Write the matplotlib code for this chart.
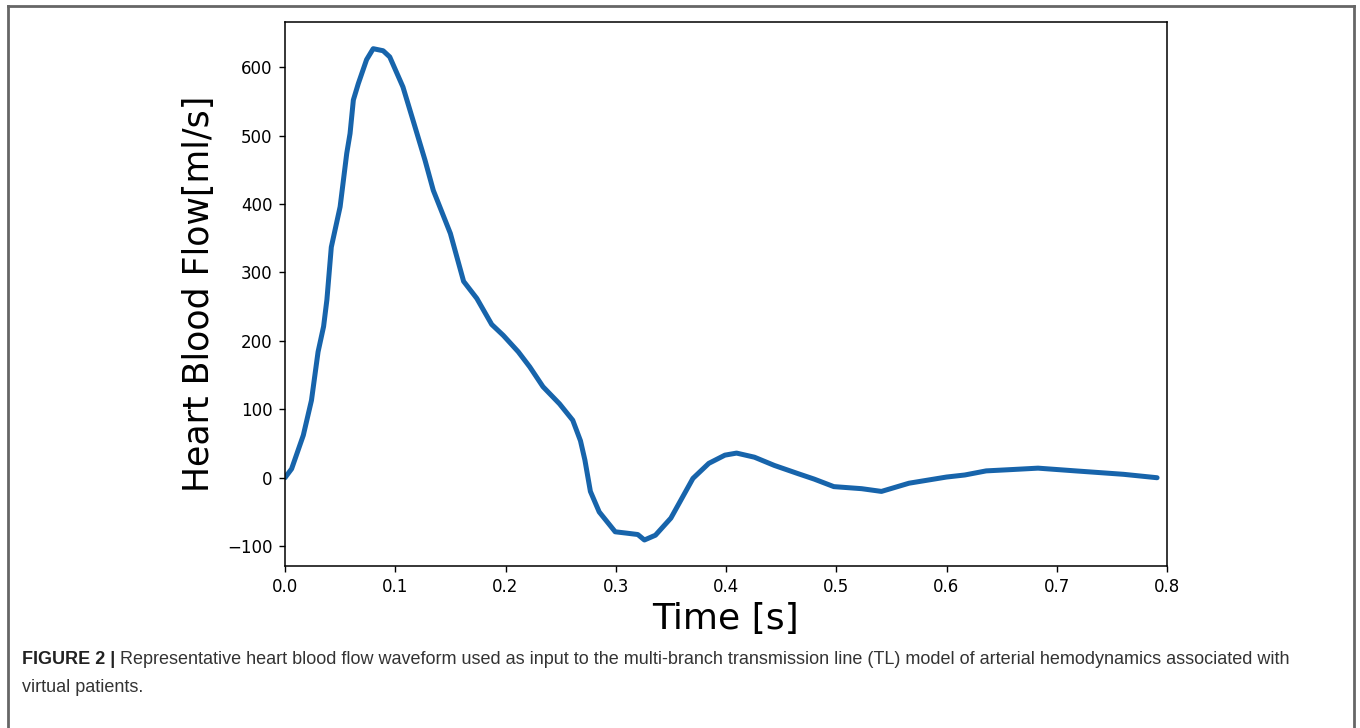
import matplotlib
matplotlib.use("Agg")
import matplotlib.pyplot as plt
from matplotlib.lines import Line2D

# Heart blood flow waveform
time_s = [0.000, 0.006, 0.0166, 0.024, 0.030, 0.035, 0.038, 0.042, 0.050, 0.056,
          0.059, 0.062, 0.0665, 0.074, 0.080, 0.089, 0.095, 0.107, 0.116, 0.127,
          0.1345, 0.150, 0.162, 0.174, 0.1875, 0.198, 0.2116, 0.222, 0.234, 0.249,
          0.261, 0.268, 0.272, 0.277, 0.285, 0.2995, 0.310, 0.320, 0.326, 0.336,
          0.350, 0.370, 0.3844, 0.399, 0.4096, 0.4258, 0.4438, 0.4653, 0.480, 0.4978,
          0.523, 0.541, 0.566, 0.600, 0.6166, 0.636, 0.660, 0.683, 0.717, 0.7605,
          0.791]
flow_ml_s = [0, 13, 62, 113, 184, 221, 260, 337, 396, 474,
             503, 552, 576, 611, 627, 624, 615, 571, 523, 464,
             420, 357, 287, 262, 224, 208, 184, 162, 133, 108,
             84, 54, 26, -20, -50, -79, -81, -83, -91, -84,
             -59, -1, 21, 33, 36, 30, 18, 6, -2, -13,
             -16, -20, -8, 1, 4, 10, 12, 14, 10, 5,
             0]

x_ticks = [0.0, 0.1, 0.2, 0.3, 0.4, 0.5, 0.6, 0.7, 0.8]
y_ticks = [-100, 0, 100, 200, 300, 400, 500, 600]

caption_bold = "FIGURE 2 |"
caption_line1 = ("Representative heart blood flow waveform used as input to the multi-branch "
                 "transmission line (TL) model of arterial hemodynamics associated with")
caption_line2 = "virtual patients."

W, H = 1360, 728
fig = plt.figure(figsize=(W / 100, H / 100), dpi=100)
ax = fig.add_axes([285 / W, 1 - 566 / H, (1167 - 285) / W, (566 - 22) / H])

ax.plot(time_s, flow_ml_s, color="#1764ab", linewidth=3.6, solid_capstyle="round")
ax.set_xlim(0, 0.8)
ax.set_ylim(-129, 666)
ax.set_xticks(x_ticks)
ax.set_yticks(y_ticks)
ax.tick_params(labelsize=12, width=1.0, length=4.5, pad=4.5)
for s in ax.spines.values():
    s.set_linewidth(1.1)

ax.set_xlabel("Time [s]", fontsize=26, labelpad=4)
ax.set_ylabel("Heart Blood Flow[ml/s]", fontsize=25, labelpad=8)

# outer frame of the figure panel (open at the bottom)
frame_kw = dict(color="#666666", linewidth=2, transform=fig.transFigure, clip_on=False)
fig.add_artist(Line2D([8 / W, 8 / W], [0, 1 - 6 / H], **frame_kw))
fig.add_artist(Line2D([1354 / W, 1354 / W], [0, 1 - 6 / H], **frame_kw))
fig.add_artist(Line2D([8 / W, 1354 / W], [1 - 6 / H, 1 - 6 / H], **frame_kw))

# caption
cap_font = ["Liberation Sans", "DejaVu Sans"]
cap_size = 13
t = fig.text(22 / W, 1 - 660 / H, caption_bold, fontsize=cap_size, fontweight="bold",
             family=cap_font, va="center", ha="left", color="#222222")
fig.canvas.draw()
bb = t.get_window_extent()
fig.text((bb.x1 + 5) / W, 1 - 660 / H, caption_line1, fontsize=cap_size,
         family=cap_font, va="center", ha="left", color="#333333")
fig.text(22 / W, 1 - 688 / H, caption_line2, fontsize=cap_size,
         family=cap_font, va="center", ha="left", color="#333333")

fig.savefig("out.png", dpi=100)
